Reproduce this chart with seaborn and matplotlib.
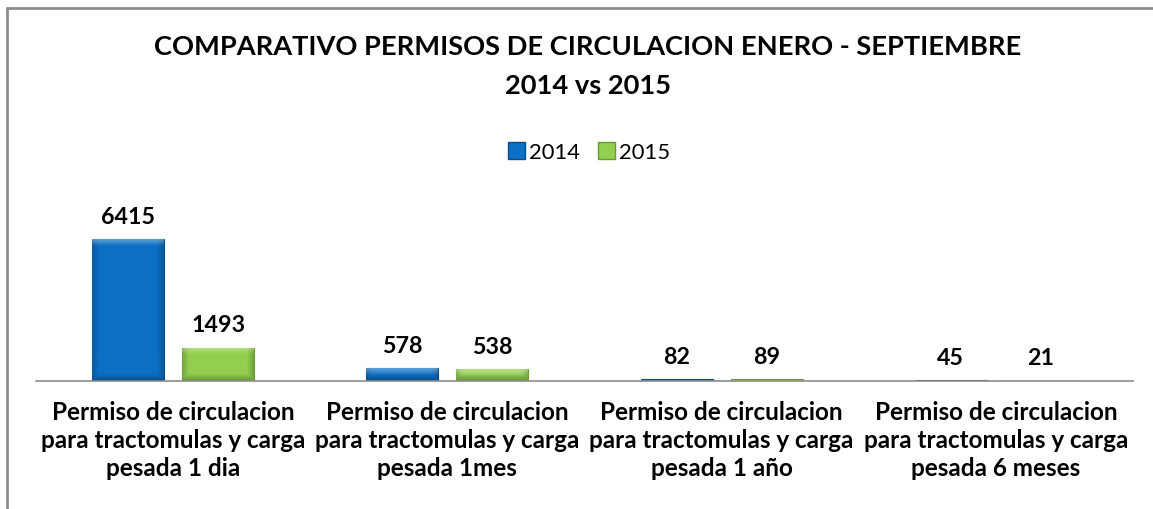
import matplotlib
matplotlib.use("Agg")
import matplotlib.pyplot as plt
import seaborn as sns
import numpy as np
import pandas as pd
from matplotlib.colors import to_rgb
from matplotlib.lines import Line2D
from matplotlib.patches import Patch

categories = [
    "Permiso de circulacion\npara tractomulas y carga\npesada 1 dia",
    "Permiso de circulacion\npara tractomulas y carga\npesada 1mes",
    "Permiso de circulacion\npara tractomulas y carga\npesada 1 año",
    "Permiso de circulacion\npara tractomulas y carga\npesada 6 meses",
]
years = ["2014", "2015"]
values_2014 = [6415, 578, 82, 45]
values_2015 = [1493, 538, 89, 21]

title_lines = ["COMPARATIVO PERMISOS DE CIRCULACION ENERO - SEPTIEMBRE", "2014 vs 2015"]
colors = {"2014": "#0b6fc4", "2015": "#92cf4e"}
edges = {"2014": "#0a4d8a", "2015": "#6a9a30"}

df = pd.DataFrame({
    "categoria": categories * 2,
    "anio": [years[0]] * 4 + [years[1]] * 4,
    "valor": values_2014 + values_2015,
})

sns.set_theme(style="white")
plt.rcParams["font.family"] = ["Lato", "DejaVu Sans"]
plt.rcParams["text.color"] = "black"

W, H = 1153, 510
fig = plt.figure(figsize=(W / 100, H / 100), dpi=100)
renderer = fig.canvas.get_renderer()


def fit_size(text, target_px, weight="bold"):
    """Font size that makes `text` about target_px wide."""
    t = fig.text(0, 0, text, fontsize=20, fontweight=weight)
    w = t.get_window_extent(renderer=renderer).width
    t.remove()
    return 20 * target_px / w


def bevel(ax, bar, base):
    """Excel-like soft bevel: light top band, darker sides and bottom."""
    x0, y0 = bar.get_x(), bar.get_y()
    w, h = bar.get_width(), bar.get_height()
    bb = bar.get_window_extent(renderer=renderer)
    if bb.height < 4:
        return
    ny = max(int(bb.height), 2)
    nx = max(int(bb.width), 2)
    px = np.arange(nx)[None, :] + 0.5
    py = np.arange(ny)[:, None] + 0.5  # 0 = top
    b = 7.0
    side = np.clip(1 - np.minimum(px, nx - px) / b, 0, 1)
    top = np.clip(1 - py / b, 0, 1)
    bottom = np.clip(1 - (ny - py) / b, 0, 1)
    rgb = np.ones((ny, nx, 3)) * np.array(to_rgb(base))
    light = (top * 0.35)[..., None]
    dark = (np.maximum(side * 0.22, bottom * 0.3))[..., None]
    rgb = rgb * (1 - dark)
    rgb = rgb + (1 - rgb) * light
    im = ax.imshow(rgb, extent=(x0, x0 + w, y0, y0 + h), aspect="auto",
                   interpolation="bilinear", zorder=bar.get_zorder() + 0.1)
    im.set_clip_path(bar)


title_fs = fit_size(title_lines[0], 867)
tick_fs = fit_size("para tractomulas y carga", 264)
value_fs = fit_size("6415", 54)
legend_fs = fit_size("2014", 51, weight="normal")

ax = fig.add_axes([36 / W, 1 - 382 / H, (1133 - 36) / W, 177 / H])

sns.barplot(data=df, x="categoria", y="valor", hue="anio", palette=colors,
            width=0.656, gap=0.2, legend=False, ax=ax, saturation=1)

ax.set_ylim(0, 8000)
ax.set_xlim(-0.5, 3.5)

for container, yr in zip(ax.containers, years):
    for bar in container:
        bar.set_edgecolor(edges[yr])
        bar.set_linewidth(0.8)
        bevel(ax, bar, colors[yr])
    ax.bar_label(container, fmt="%d", padding=9, fontsize=value_fs,
                 fontweight="bold", color="black")

ax.set_ylim(0, 8000)
ax.set_xlim(-0.5, 3.5)
ax.set_xlabel("")
ax.set_ylabel("")
ax.set_yticks([])
for s in ["top", "left", "right"]:
    ax.spines[s].set_visible(False)
ax.spines["bottom"].set_color("#8c8c8c")
ax.spines["bottom"].set_linewidth(1.2)
ax.spines["bottom"].set_zorder(5)
ax.tick_params(axis="x", length=0, pad=14, labelcolor="black")
for lbl in ax.get_xticklabels():
    lbl.set_fontsize(tick_fs)
    lbl.set_fontweight("bold")
    lbl.set_linespacing(1.25)

fig.text(588 / W, 1 - 55 / H, title_lines[0], ha="center", va="baseline",
         fontsize=title_fs, fontweight="bold")
fig.text(588 / W, 1 - 94 / H, title_lines[1], ha="center", va="baseline",
         fontsize=title_fs, fontweight="bold")

hsize = 17 * 0.72 / legend_fs
handles = [Patch(facecolor=colors[y], edgecolor=edges[y], label=y) for y in years]
fig.legend(handles=handles, loc="center", bbox_to_anchor=(589 / W, 1 - 153 / H), ncol=2,
           frameon=False, fontsize=legend_fs, handlelength=hsize, handleheight=hsize,
           handletextpad=0.2, columnspacing=0.8, borderpad=0)

# chart-area border (top and left visible in the reference)
fig.add_artist(Line2D([7 / W, 7 / W], [0, 1 - 9 / H], color="#8c8c8c", lw=2.0))
fig.add_artist(Line2D([7 / W, 1], [1 - 9 / H, 1 - 9 / H], color="#8c8c8c", lw=2.0))

fig.savefig("out.png", dpi=100)
